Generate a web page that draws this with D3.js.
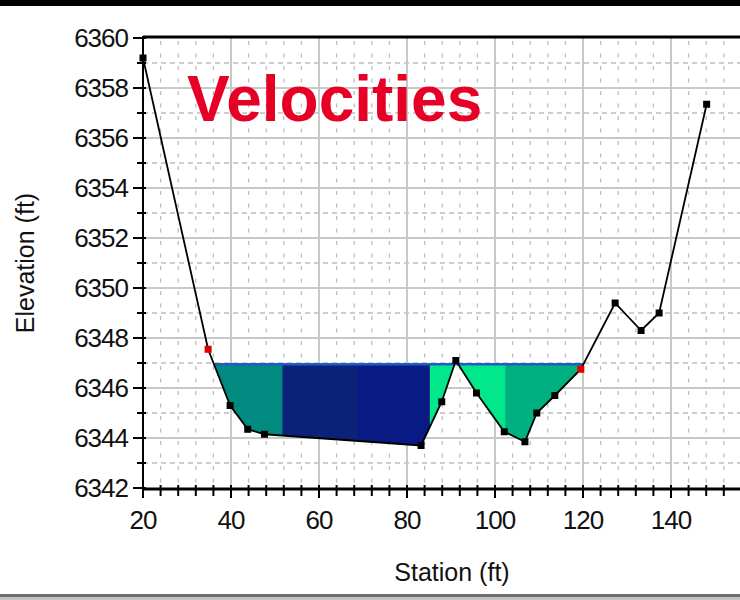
<!DOCTYPE html>
<html>
<head>
<meta charset="utf-8">
<script src="https://cdn.jsdelivr.net/npm/d3@7"></script>
<style>
  body { margin: 0; background: #fff; }
  svg { display: block; font-family: "Liberation Sans", Arial, sans-serif; }
</style>
</head>
<body>
<svg id="chart" width="740" height="600"></svg>
<script>
// ground profile (station ft, elevation ft)
const stations = [20, 34.8, 39.8, 43.8, 47.6, 83.2, 87.9, 91.1, 95.8, 102.1, 106.8, 109.5, 113.6, 119.5, 127.3, 133.2, 137.3, 148.1]
const elevations = [6359.2, 6347.55, 6345.3, 6344.35, 6344.15, 6343.7, 6345.45, 6347.1, 6345.8, 6344.25, 6343.85, 6345.0, 6345.7, 6346.75, 6349.4, 6348.3, 6349.0, 6357.35]
const bankStations = [1, 13]
const waterSurface = 6346.95

// velocity slices: breaks between slices and their colours
const sliceBreaks = [51.7, 68.5, 85.2, 102.3]
const sliceColors = ["#008a80", "#0b2278", "#0a1a84", "#00e88a", "#00b07f"]

const xTicks = [20, 40, 60, 80, 100, 120, 140, 160]
const yTicks = [6342, 6344, 6346, 6348, 6350, 6352, 6354, 6356, 6358, 6360]

const svg = d3.select("#chart")
const W = 740, H = 600

const x = d3.scaleLinear().domain([20, 160]).range([143, 759])
const y = d3.scaleLinear().domain([6342, 6360]).range([488, 38])

const ground = stations.map((s, i) => ({ s, e: elevations[i], i }))

// frame bars
svg.append("rect").attr("x", 0).attr("y", 0).attr("width", W).attr("height", 6).attr("fill", "#000")
svg.append("rect").attr("x", 0).attr("y", 594).attr("width", W).attr("height", 3).attr("fill", "#6e6e6e")
svg.append("rect").attr("x", 0).attr("y", 597).attr("width", W).attr("height", 3).attr("fill", "#c4c4c4")

// grid
const grid = svg.append("g")
const minorX = d3.range(24, 160, 4).filter(v => v % 20 !== 0)
const minorY = d3.range(6343, 6360, 2)

grid.selectAll(".mx").data(minorX).join("line")
  .attr("x1", d => x(d)).attr("x2", d => x(d))
  .attr("y1", y(6360)).attr("y2", y(6342))
  .attr("stroke", "#bdbdbd").attr("stroke-width", 1.3)
  .attr("stroke-dasharray", "4,8.5").attr("stroke-dashoffset", -3)

grid.selectAll(".my").data(minorY).join("line")
  .attr("x1", x(20)).attr("x2", W)
  .attr("y1", d => y(d)).attr("y2", d => y(d))
  .attr("stroke", "#bdbdbd").attr("stroke-width", 1.3)
  .attr("stroke-dasharray", "5,4")

grid.selectAll(".gx").data(xTicks.slice(1)).join("line")
  .attr("x1", d => x(d)).attr("x2", d => x(d))
  .attr("y1", y(6360)).attr("y2", y(6342))
  .attr("stroke", "#c8c8c8").attr("stroke-width", 2)

grid.selectAll(".gy").data(yTicks.slice(1, -1)).join("line")
  .attr("x1", x(20)).attr("x2", W)
  .attr("y1", d => y(d)).attr("y2", d => y(d))
  .attr("stroke", "#c8c8c8").attr("stroke-width", 2)

// title
svg.append("text")
  .attr("x", 187).attr("y", 121)
  .attr("font-size", 64).attr("font-weight", "bold")
  .attr("fill", "#e60026")
  .text("Velocities")

// water edges where the ground crosses the water surface
function crossing(i) {
  const t = (waterSurface - elevations[i]) / (elevations[i + 1] - elevations[i])
  return stations[i] + t * (stations[i + 1] - stations[i])
}
let li = 0
while (!(elevations[li] >= waterSurface && elevations[li + 1] < waterSurface)) li++
let ri = stations.length - 2
while (!(elevations[ri] < waterSurface && elevations[ri + 1] >= waterSurface)) ri--
const leftEdge = crossing(li)
const rightEdge = crossing(ri)

const waterPoly = [[leftEdge, waterSurface]]
  .concat(ground.filter(d => d.i > li && d.i <= ri).map(d => [d.s, d.e]))
  .concat([[rightEdge, waterSurface]])

const defs = svg.append("defs")
defs.append("clipPath").attr("id", "water")
  .append("path")
  .attr("d", d3.line().x(d => x(d[0])).y(d => y(d[1]))(waterPoly) + "Z")

const edges = [leftEdge].concat(sliceBreaks, [rightEdge])
const slices = sliceColors.map((c, i) => ({ x0: edges[i], x1: edges[i + 1], c }))

svg.append("g")
  .attr("clip-path", "url(#water)")
  .selectAll("rect")
  .data(slices)
  .join("rect")
  .attr("x", d => x(d.x0))
  .attr("width", d => x(d.x1) - x(d.x0) + 0.5)
  .attr("y", y(waterSurface))
  .attr("height", y(6342) - y(waterSurface))
  .attr("fill", d => d.c)

// water surface
svg.append("line")
  .attr("x1", x(leftEdge)).attr("x2", x(rightEdge))
  .attr("y1", y(waterSurface)).attr("y2", y(waterSurface))
  .attr("stroke", "#1f5cc4").attr("stroke-width", 2.5)

// ground line
svg.append("path")
  .datum(ground)
  .attr("fill", "none")
  .attr("stroke", "#000")
  .attr("stroke-width", 1.8)
  .attr("d", d3.line().x(d => x(d.s)).y(d => y(d.e)))

svg.append("g")
  .selectAll("rect")
  .data(ground)
  .join("rect")
  .attr("x", d => x(d.s) - 3.5)
  .attr("y", d => y(d.e) - 3.5)
  .attr("width", 7).attr("height", 7)
  .attr("fill", d => bankStations.includes(d.i) ? "#e00000" : "#000")

// axes
const axes = svg.append("g").attr("stroke", "#000")
axes.append("line").attr("x1", x(20)).attr("x2", W).attr("y1", 37).attr("y2", 37).attr("stroke-width", 3)
axes.append("line").attr("x1", x(20)).attr("x2", x(20)).attr("y1", 36).attr("y2", 490).attr("stroke-width", 2)
axes.append("line").attr("x1", x(20) - 1).attr("x2", W).attr("y1", 489).attr("y2", 489).attr("stroke-width", 3)

axes.selectAll(".xt").data(d3.range(20, 161, 4)).join("line")
  .attr("x1", d => x(d)).attr("x2", d => x(d))
  .attr("y1", 485).attr("y2", d => d % 20 === 0 ? 498 : 496)
  .attr("stroke-width", 2)

axes.selectAll(".yt").data(d3.range(6342, 6361, 1)).join("line")
  .attr("x1", d => d % 2 === 0 ? 133 : 137).attr("x2", 146)
  .attr("y1", d => y(d)).attr("y2", d => y(d))
  .attr("stroke-width", 2)

svg.append("g")
  .selectAll("text")
  .data(yTicks)
  .join("text")
  .attr("x", 128)
  .attr("y", d => y(d))
  .attr("dy", "0.36em")
  .attr("text-anchor", "end")
  .attr("font-size", 26)
  .attr("letter-spacing", -1)
  .attr("fill", "#111")
  .text(d => d)

// the 160 label is cut by the right edge, as in the original
svg.append("g")
  .selectAll("text")
  .data(xTicks)
  .join("text")
  .attr("x", d => x(d))
  .attr("y", 529)
  .attr("text-anchor", "middle")
  .attr("font-size", 26)
  .attr("letter-spacing", -1)
  .attr("fill", "#111")
  .text(d => d)

svg.append("text")
  .attr("x", 452).attr("y", 581)
  .attr("text-anchor", "middle")
  .attr("font-size", 25)
  .attr("fill", "#111")
  .text("Station (ft)")

svg.append("text")
  .attr("transform", "translate(34,263) rotate(-90)")
  .attr("text-anchor", "middle")
  .attr("font-size", 25)
  .attr("fill", "#111")
  .text("Elevation (ft)")
</script>
</body>
</html>
